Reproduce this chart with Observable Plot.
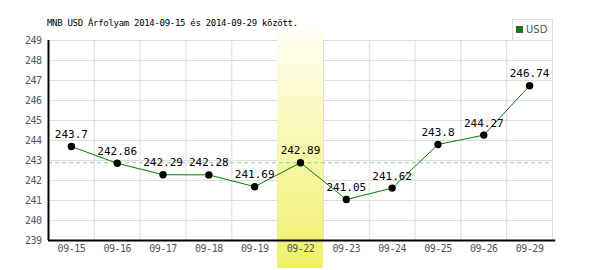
<!DOCTYPE html>
<html><head><meta charset="utf-8">
<script src="https://cdn.jsdelivr.net/npm/d3@7"></script>
<script src="https://cdn.jsdelivr.net/npm/@observablehq/plot@0.6"></script>
<style>
body{margin:0;background:#fff;}
#wrap{position:relative;width:600px;height:270px;}
#title{position:absolute;left:47px;top:18px;font-family:"DejaVu Sans Mono";font-size:9px;letter-spacing:-0.3px;color:#000;white-space:pre;line-height:10px;}
#legend{position:absolute;left:512px;top:19px;width:39px;height:20px;border:1px solid #ddd;border-bottom:none;background:#fff;font-family:"DejaVu Sans";font-size:10px;color:#555;line-height:20px;}
#legend .sw{display:inline-block;width:5px;height:5px;background:#008000;border:1px solid #555;margin:0 3px 0 3px;vertical-align:0px;}
</style></head><body>
<div id="wrap"><div id="chart"></div><div id="title"></div><div id="legend"><span class="sw"></span>USD</div></div>
<script>
const titleText = "MNB USD Árfolyam 2014-09-15 és 2014-09-29 között.";
const dates = ["09-15","09-16","09-17","09-18","09-19","09-22","09-23","09-24","09-25","09-26","09-29"];
const rates = [243.7, 242.86, 242.29, 242.28, 241.69, 242.89, 241.05, 241.62, 243.8, 244.27, 246.74];
const yTicks = [239, 240, 241, 242, 243, 244, 245, 246, 247, 248, 249];
const highlightDate = "09-22";
const refValue = 242.89;

document.getElementById("title").textContent = titleText;
const idx = dates.map((d, i) => i);
const hi = dates.indexOf(highlightDate);
const yMin = d3.min(yTicks), yMax = d3.max(yTicks);
const bounds = d3.range(dates.length + 1).map(i => i - 0.5);
const mono = "DejaVu Sans Mono";

const plot = Plot.plot({
  width: 600, height: 270,
  marginLeft: 48, marginRight: 48, marginTop: 40, marginBottom: 30,
  style: {background: "transparent", overflow: "visible"},
  x: {type: "linear", domain: [-0.5, dates.length - 0.5]},
  y: {domain: [yMin, yMax]},
  marks: [
    Plot.ruleY(yTicks, {stroke: "#ddd", strokeWidth: 1}),
    Plot.ruleX(bounds, {stroke: "#ddd", strokeWidth: 1}),
    Plot.rect([hi], {x1: i => i - 0.5, x2: i => i + 0.5, y1: yMin, y2: yMax, fill: "url(#hlgrad)", insetTop: -10, insetBottom: -28}),
    Plot.ruleY([refValue], {stroke: "#99cc99", strokeDasharray: "4,3"}),
    Plot.line(idx, {x: i => i, y: i => rates[i], stroke: "#008000", strokeWidth: 1}),
    Plot.dot(idx, {x: i => i, y: i => rates[i], r: 3.7, fill: "#000", stroke: "none"}),
    Plot.text(idx, {x: i => i, y: i => rates[i], text: i => String(rates[i]), dy: -12, fontSize: 11, fontFamily: mono, letterSpacing: -0.6, fill: "#000"}),
    Plot.ruleX([-0.5], {stroke: "#000", strokeWidth: 2}),
    Plot.ruleY([yMin], {stroke: "#000", strokeWidth: 2, x1: -0.5, x2: dates.length - 0.43}),
    Plot.axisX({ticks: idx, tickFormat: i => dates[i], tickSize: 0, tickPadding: 4, fontSize: 10, fontFamily: mono, fill: "#555", label: null}),
    Plot.axisY({ticks: yTicks, tickFormat: d => String(d), tickSize: 0, tickPadding: 7, fontSize: 10, fontFamily: mono, fill: "#555", label: null})
  ]
});
const svg = d3.select(plot);
const defs = svg.insert("defs", ":first-child");
const g = defs.append("linearGradient").attr("id", "hlgrad").attr("x1", 0).attr("y1", 0).attr("x2", 0).attr("y2", 1);
g.append("stop").attr("offset", "0%").attr("stop-color", "#fffff2");
g.append("stop").attr("offset", "100%").attr("stop-color", "#f0f068");
svg.selectAll("[aria-label='x-axis tick label'] text, [aria-label='y-axis tick label'] text").attr("letter-spacing", "-0.5");
document.getElementById("chart").appendChild(plot);
</script>
</body></html>
